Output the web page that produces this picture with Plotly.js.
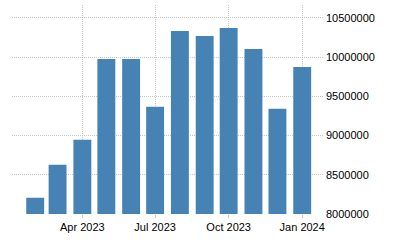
<!DOCTYPE html>
<html><head><meta charset="utf-8">
<script src="https://cdn.plot.ly/plotly-3.0.1.min.js"></script>
<style>html,body{margin:0;padding:0;background:#fff}#c{width:400px;height:250px}</style>
</head><body><div id="c"></div>
<script>
var months = ["2023-02-01","2023-03-01","2023-04-01","2023-05-01","2023-06-01","2023-07-01","2023-08-01","2023-09-01","2023-10-01","2023-11-01","2023-12-01","2024-01-01"];
var values = [8207000,8627000,8945000,9976000,9976000,9365000,10332000,10268000,10370000,10103000,9340000,9874000];
var xTickVals = ["2023-04-01","2023-07-01","2023-10-01","2024-01-01"];
var xTickText = ["Apr 2023","Jul 2023","Oct 2023","Jan 2024"];
var yTickVals = [8000000,8500000,9000000,9500000,10000000,10500000];

Plotly.newPlot('c', [{
  type:'bar', x:months, y:values,
  marker:{color:'#4682B4', line:{width:0}},
  hoverinfo:'none'
}], {
  width:400, height:250,
  margin:{l:12, r:77, t:5, b:36},
  paper_bgcolor:'#fff', plot_bgcolor:'#fff',
  bargap:0.2,
  showlegend:false,
  font:{family:'Arial, Liberation Sans, sans-serif', size:11, color:'#000'},
  xaxis:{type:'date', range:['2023-01-03','2024-01-27'],
    tickvals:xTickVals, ticktext:xTickText,
    showgrid:true, gridcolor:'#c8c8c8', griddash:'1px,1px', gridwidth:1,
    ticks:'outside', ticklen:3, tickcolor:'#c8c8c8',
    zeroline:false, showline:false, fixedrange:true},
  yaxis:{side:'right', range:[8000000,10663000],
    tickvals:yTickVals, ticktext:yTickVals.map(String),
    showgrid:true, gridcolor:'#c8c8c8', griddash:'1px,1px', gridwidth:1,
    ticks:'', ticklabelstandoff:2,
    zeroline:false, showline:false, fixedrange:true}
}, {displayModeBar:false, staticPlot:true});
</script></body></html>
